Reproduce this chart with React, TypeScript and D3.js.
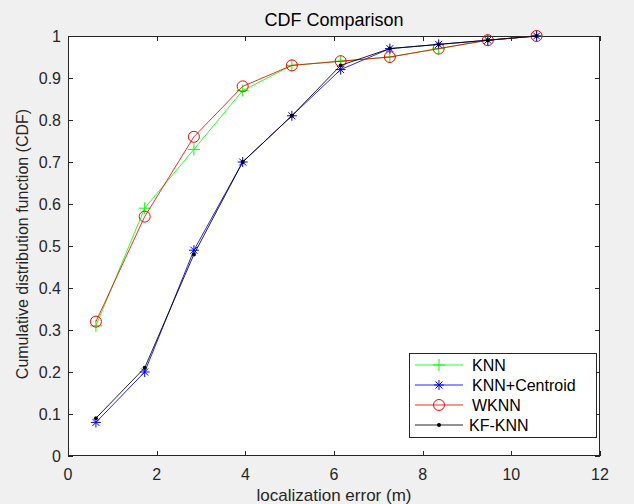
import React, { useEffect, useRef } from 'react';
import * as d3 from 'd3';

const errorX = [0.63, 1.73, 2.84, 3.94, 5.05, 6.15, 7.26, 8.36, 9.47, 10.57];
const knn = [0.31, 0.59, 0.73, 0.87, 0.93, 0.94, 0.95, 0.97, 0.99, 1.0];
const knnCentroid = [0.08, 0.2, 0.49, 0.7, 0.81, 0.92, 0.97, 0.98, 0.99, 1.0];
const wknn = [0.32, 0.57, 0.76, 0.88, 0.93, 0.94, 0.95, 0.97, 0.99, 1.0];
const kfKnn = [0.09, 0.21, 0.48, 0.7, 0.81, 0.93, 0.97, 0.98, 0.99, 1.0];
const seriesNames = ['KNN', 'KNN+Centroid', 'WKNN', 'KF-KNN'];
const xTicks = [0, 2, 4, 6, 8, 10, 12];
const yTicks = [0, 0.1, 0.2, 0.3, 0.4, 0.5, 0.6, 0.7, 0.8, 0.9, 1];

const App = () => {
  const ref = useRef<SVGSVGElement | null>(null);

  useEffect(() => {
    const svg = d3.select(ref.current);
    svg.selectAll('*').remove();

    const W = 634, H = 504;
    const left = 68, right = 600, top = 36, bottom = 456;
    const x = d3.scaleLinear().domain([0, 12]).range([left, right]);
    const y = d3.scaleLinear().domain([0, 1]).range([bottom, top]);
    const axisColor = '#262626';
    const font = '"Liberation Sans", Arial, sans-serif';

    svg.append('rect').attr('width', W).attr('height', H).attr('fill', '#f0f0f0');
    svg.append('rect').attr('x', left).attr('y', top).attr('width', right - left).attr('height', bottom - top).attr('fill', '#fff');

    // ticks (inside, all four sides)
    const tl = 5;
    xTicks.forEach(t => {
      const px = Math.round(x(t)) + 0.5;
      svg.append('line').attr('x1', px).attr('x2', px).attr('y1', bottom).attr('y2', bottom - tl).attr('stroke', axisColor);
      svg.append('line').attr('x1', px).attr('x2', px).attr('y1', top).attr('y2', top + tl).attr('stroke', axisColor);
      svg.append('text').attr('x', x(t)).attr('y', bottom + 24).attr('text-anchor', 'middle')
        .attr('font-family', font).attr('font-size', 16).attr('fill', axisColor).text(d3.format('')(t));
    });
    yTicks.forEach(t => {
      const py = Math.round(y(t)) + 0.5;
      svg.append('line').attr('x1', left).attr('x2', left + tl).attr('y1', py).attr('y2', py).attr('stroke', axisColor);
      svg.append('line').attr('x1', right).attr('x2', right - tl).attr('y1', py).attr('y2', py).attr('stroke', axisColor);
      svg.append('text').attr('x', left - 7).attr('y', y(t) + 6).attr('text-anchor', 'end')
        .attr('font-family', font).attr('font-size', 16).attr('fill', axisColor).text(d3.format('')(t));
    });
    svg.append('rect').attr('x', left + 0.5).attr('y', top + 0.5).attr('width', right - left - 1).attr('height', bottom - top - 1)
      .attr('fill', 'none').attr('stroke', axisColor);

    const line = d3.line<number>().x((_, i) => x(errorX[i])).y(d => y(d));

    const drawMarker = (g: any, kind: string, color: string, cx: number, cy: number) => {
      if (kind === 'plus') {
        g.append('path').attr('d', `M${cx - 6},${cy}H${cx + 6}M${cx},${cy - 6}V${cy + 6}`).attr('stroke', color).attr('fill', 'none');
      } else if (kind === 'star') {
        const r = 5;
        g.append('path').attr('d', `M${cx - r},${cy}H${cx + r}M${cx},${cy - r}V${cy + r}M${cx - r * 0.7},${cy - r * 0.7}L${cx + r * 0.7},${cy + r * 0.7}M${cx - r * 0.7},${cy + r * 0.7}L${cx + r * 0.7},${cy - r * 0.7}`)
          .attr('stroke', color).attr('fill', 'none');
      } else if (kind === 'circle') {
        g.append('circle').attr('cx', cx).attr('cy', cy).attr('r', 5.5).attr('stroke', color).attr('fill', 'none');
      } else {
        g.append('circle').attr('cx', cx).attr('cy', cy).attr('r', 2).attr('fill', color);
      }
    };

    const series = [
      { values: knn, color: '#00ff00', marker: 'plus' },
      { values: knnCentroid, color: '#0000ff', marker: 'star' },
      { values: wknn, color: '#ff0000', marker: 'circle' },
      { values: kfKnn, color: '#000000', marker: 'dot' },
    ];

    series.forEach(s => {
      const g = svg.append('g');
      g.append('path').attr('d', line(s.values)).attr('fill', 'none').attr('stroke', s.color).attr('stroke-width', 1).attr('opacity', 0.85);
      s.values.forEach((v, i) => drawMarker(g, s.marker, s.color, x(errorX[i]), y(v)));
    });

    // title and labels
    svg.append('text').attr('x', (left + right) / 2).attr('y', 26).attr('text-anchor', 'middle')
      .attr('font-family', font).attr('font-size', 18).attr('fill', '#000').text('CDF Comparison');
    svg.append('text').attr('x', (left + right) / 2).attr('y', 501).attr('text-anchor', 'middle')
      .attr('font-family', font).attr('font-size', 17).attr('fill', axisColor).text('localization error (m)');
    svg.append('text').attr('transform', `translate(28,${(top + bottom) / 2 - 2}) rotate(-90)`).attr('text-anchor', 'middle')
      .attr('font-family', font).attr('font-size', 16).attr('fill', axisColor).text('Cumulative distribution function (CDF)');

    // legend
    const lg = svg.append('g');
    lg.append('rect').attr('x', 409.5).attr('y', 353.5).attr('width', 187).attr('height', 84)
      .attr('fill', '#fff').attr('stroke', axisColor);
    const rowY = [365, 385, 405, 425];
    series.forEach((s, i) => {
      const yy = rowY[i];
      lg.append('line').attr('x1', 415).attr('x2', 463).attr('y1', yy).attr('y2', yy).attr('stroke', s.color).attr('opacity', 0.85);
      drawMarker(lg, s.marker, s.color, 439, yy);
      lg.append('text').attr('x', i === 3 ? 469 : 472).attr('y', yy + 6).attr('font-family', font)
        .attr('font-size', 16).attr('fill', '#000').text(seriesNames[i]);
    });
  }, []);

  return <svg ref={ref} width={634} height={504} style={{ display: 'block', position: 'absolute', left: 0, top: 0 }} />;
};

export default App;
